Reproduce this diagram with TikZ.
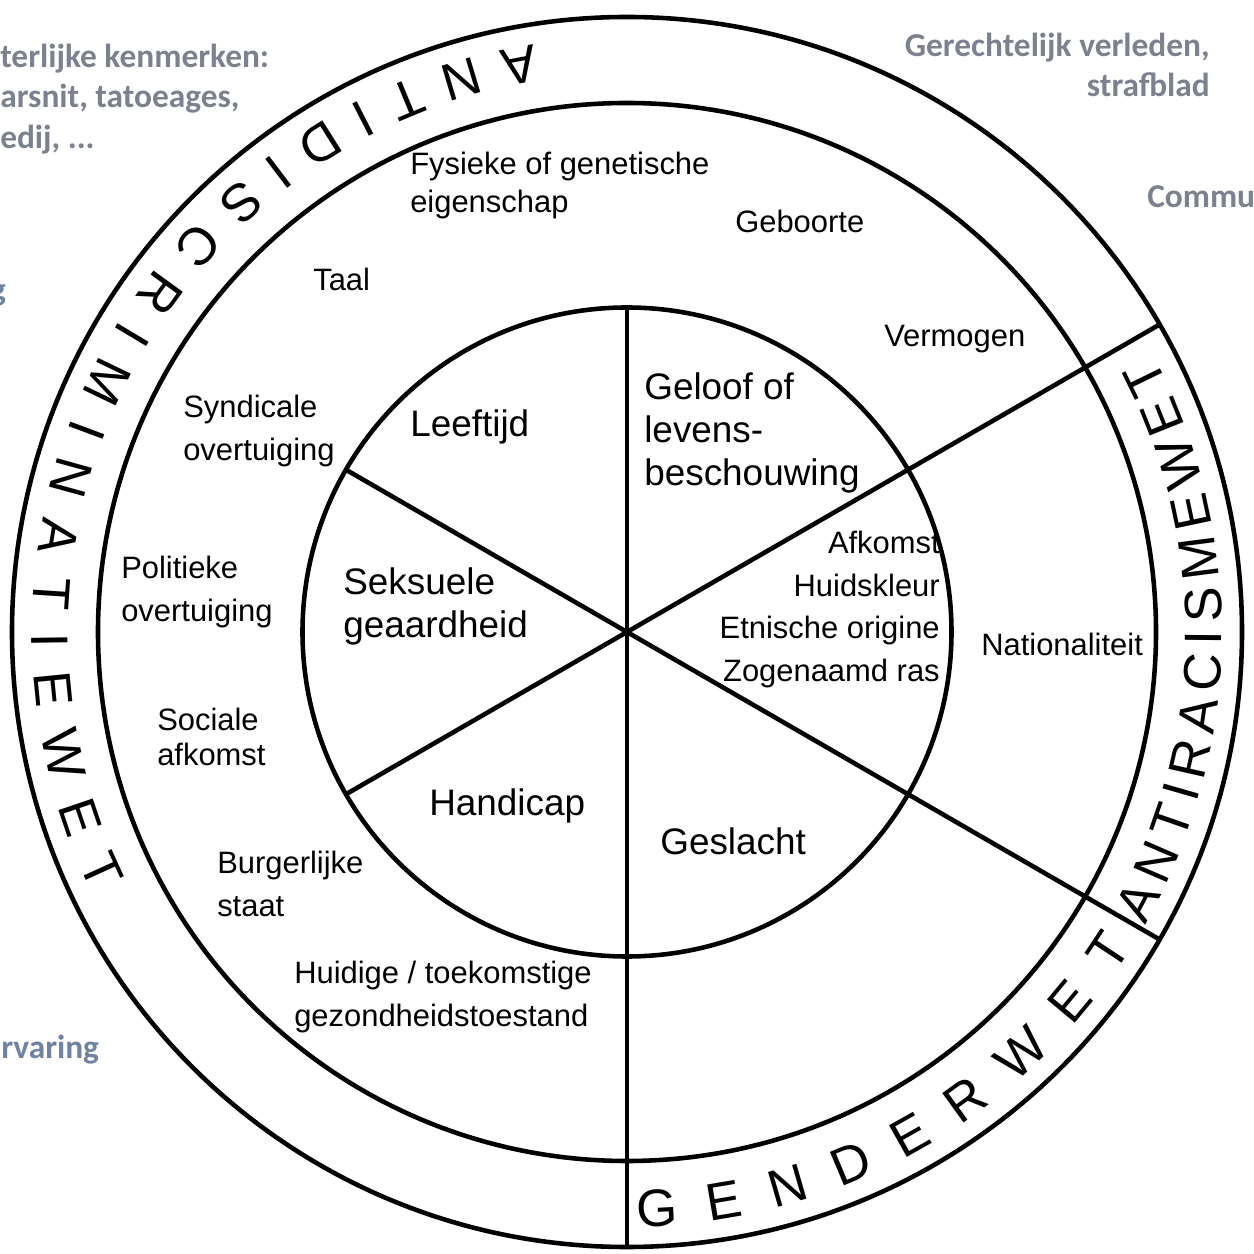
\documentclass[tikz,border=0pt]{standalone}
\usepackage{fontspec}
\setmainfont{Liberation Sans}
\newfontfamily\slidefont{Carlito}
\usetikzlibrary{decorations.text, positioning}
\definecolor{slideColor}{RGB}{124,129,143}
\definecolor{slideBlueColor}{RGB}{112,130,162}
\tikzset{core/.style={font=\fontsize{10.5}{12.2}\selectfont, align=left, anchor=west, inner sep=0pt}}
\tikzset{ground/.style={font=\fontsize{8.8}{12}\selectfont, align=left, anchor=west, inner sep=0pt}}
\tikzset{slide/.style={font=\slidefont\bfseries\fontsize{9.5}{11.6}\selectfont, text=slideColor, inner sep=0pt}}
\tikzset{lawtext/.style={decorate, decoration={text along path, text align={fit to path}, text={|\fontsize{15}{15}\selectfont|#1}}}}

\begin{document}
\begin{tikzpicture}[line width=1.3pt]
	\useasboundingbox (-6.27,-6.22) rectangle (6.27,6.32);
	% Rings
	\coordinate (centre) at (0,0);
	\draw (centre) circle[radius=6.15];
	\draw (centre) circle[radius=5.29];
	\draw (centre) circle[radius=3.245];

	% Laws
	\path[lawtext=ANTIDISCRIMINATIEWET] (99:5.95) arc[start angle=99, end angle=206, radius=5.95];
	\path[lawtext=GENDERWET] (-89:5.95) arc[start angle=-89, end angle=-32, radius=5.95];
	\path[lawtext=ANTIRACISMEWET] (-29.5:5.95) arc[start angle=-29.5, end angle=27.5, radius=5.95];

	% Nodes
	\node (leeftijd) [core] at (-2.19,2.05) {Leeftijd};
	\node (geloof) [core] at (0.15,1.99) {Geloof of\\levens-\\beschouwing};
	\node (seksueel) [core] at (-2.86,0.255) {Seksuele\\geaardheid};
	\node (handicap) [core] at (-2.00,-1.74) {Handicap};
	\node (geslacht) [core] at (0.31,-2.09) {Geslacht};
	\node (afkomst) [ground, align=right, anchor=east, font=\fontsize{8.8}{12.2}\selectfont] at (3.15,0.225) {Afkomst\\Huidskleur\\Etnische origine\\Zogenaamd ras};

	\node (fysiek) [ground, font=\fontsize{8.8}{10.8}\selectfont] at (-2.19,4.46) {Fysieke of genetische\\eigenschap};
	\node (geboorte) [ground] at (1.06,4.11) {Geboorte};
	\node (taal) [ground] at (-3.16,3.53) {Taal};
	\node (vermogen) [ground] at (2.55,2.93) {Vermogen};
	\node (syndicaal) [ground] at (-4.46,2.01) {Syndicale\\overtuiging};
	\node (politiek) [ground] at (-5.08,0.40) {Politieke\\overtuiging};
	\node (sociaal) [ground, font=\fontsize{8.8}{10}\selectfont] at (-4.72,-1.05) {Sociale\\afkomst};
	\node (burgerlijk) [ground] at (-4.12,-2.52) {Burgerlijke\\staat};
	\node (gezondheid) [ground] at (-3.35,-3.65) {Huidige / toekomstige\\gezondheidstoestand};
	\node (nationaliteit) [ground] at (3.52,-0.12) {Nationaliteit};

	\node (gerechtelijk) [slide, align=right, anchor=east] at (5.85,5.67) {Gerechtelijk verleden,\\strafblad};
	\node (commu) [slide, anchor=west] at (5.18,4.35) {Commu};
	\node (uiterlijk) [slide, align=left, anchor=west] at (-6.29,5.33) {terlijke kenmerken:\\arsnit, tatoeages,\\edij, ...};
	\node (g) [slide, text=slideBlueColor] at (-6.29,3.37) {g};
	\node (ervaring) [slide, text=slideBlueColor, anchor=west] at (-6.28,-4.18) {rvaring};

	% Spokes
	\draw (centre) -- (90:3.245);
	\draw (centre) -- (150:3.245);
	\draw (centre) -- (210:3.245);
	\draw (centre) -- (270:6.15);
	\draw (centre) -- (330:6.15);
	\draw (centre) -- (30:6.15);
\end{tikzpicture}
\end{document}
